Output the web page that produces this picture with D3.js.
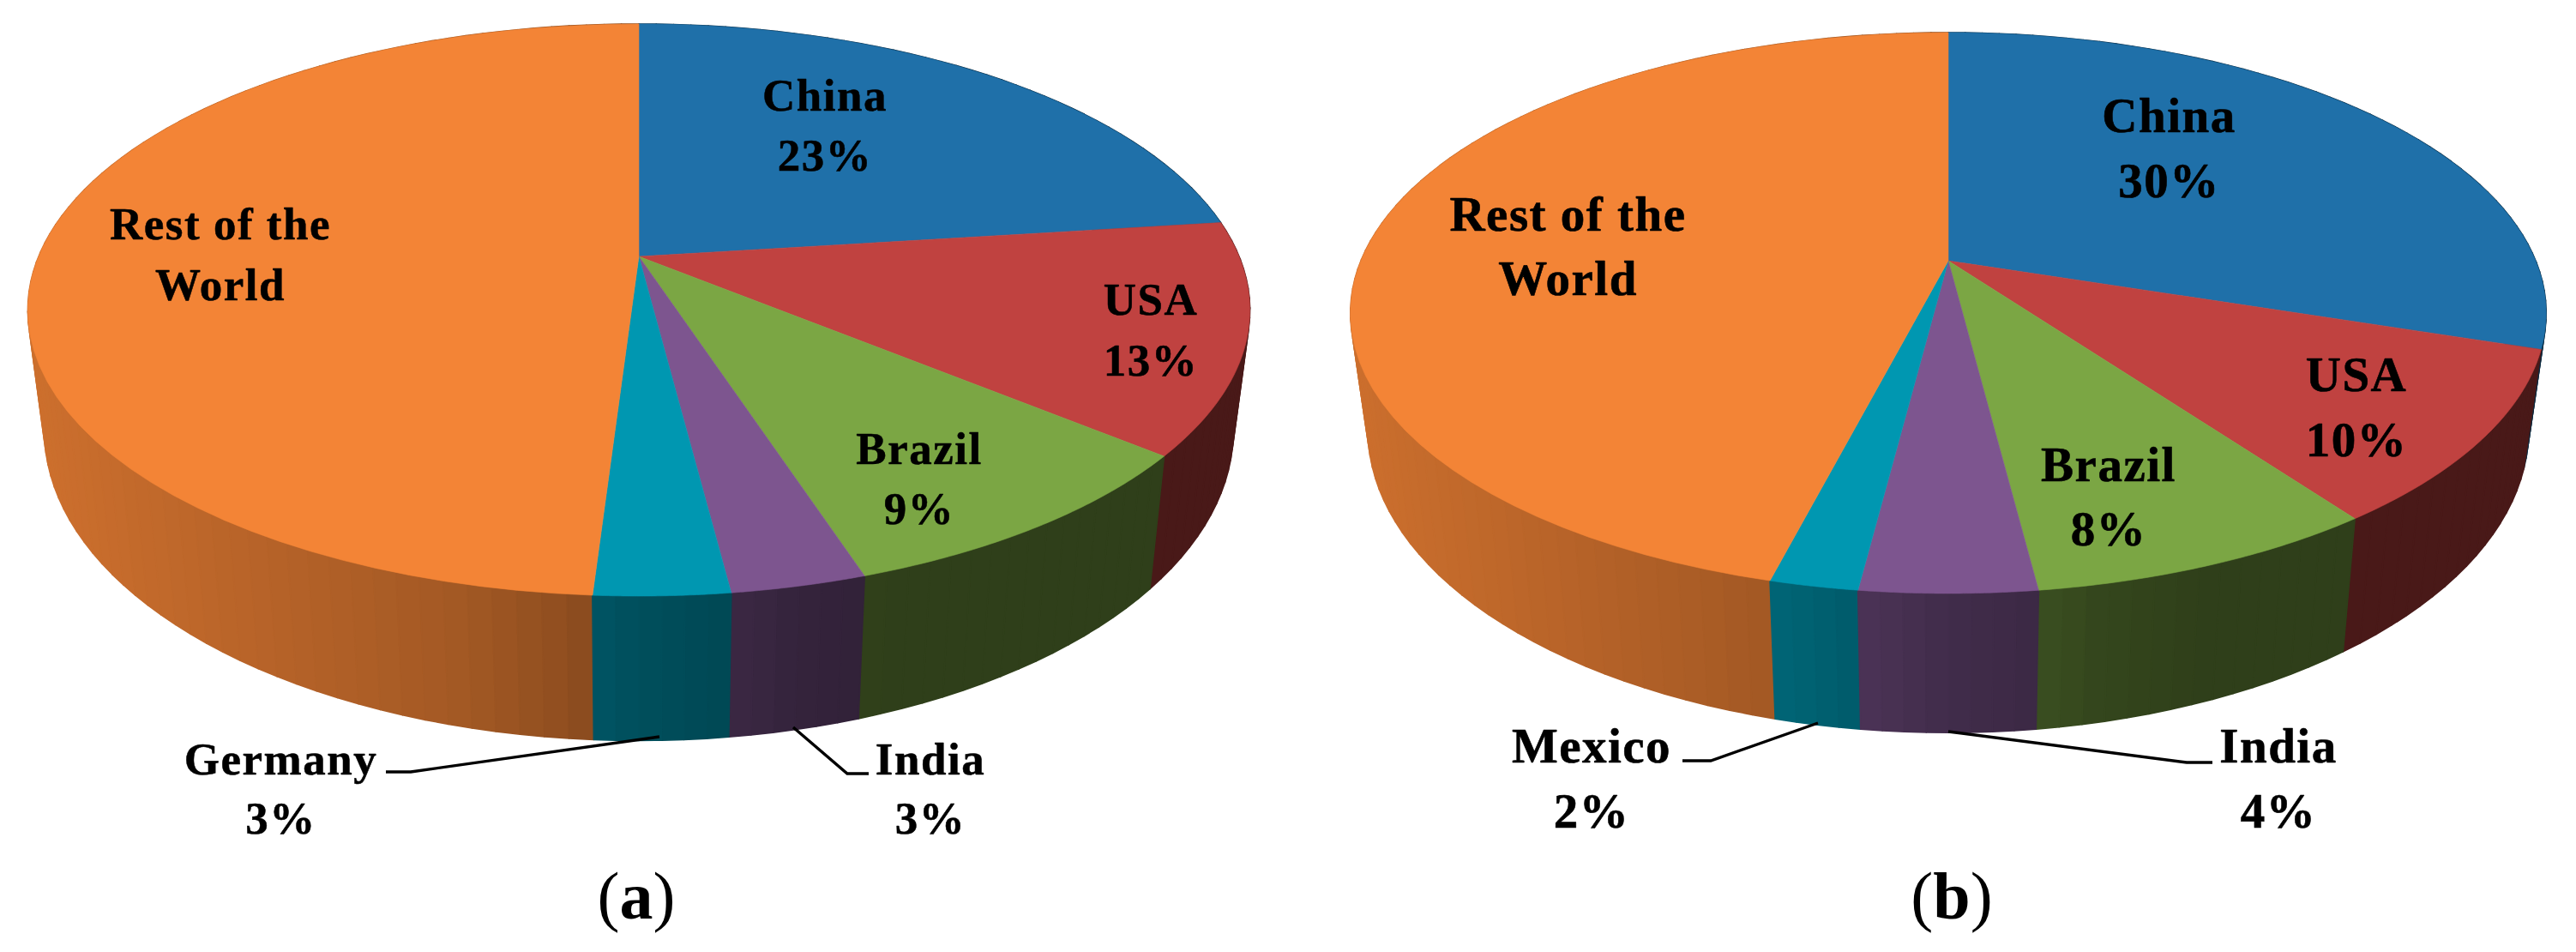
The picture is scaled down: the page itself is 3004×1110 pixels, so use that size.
<!DOCTYPE html>
<html><head><meta charset="utf-8">
<script src="https://cdnjs.cloudflare.com/ajax/libs/d3/7.8.5/d3.min.js"></script>
<style>html,body{margin:0;padding:0;background:#fff}svg{display:block}
text{font-family:"Liberation Serif",serif;fill:#000;text-anchor:middle}
.lbl{font-weight:700;stroke:#000;paint-order:stroke;stroke-linejoin:round;letter-spacing:1.5px}</style>
</head><body><svg id="c" width="3004" height="1110"></svg>
<script>
// ---- data ----
const categoriesA = ["China","USA","Brazil","India","Germany","Rest of the World"];
const valuesA     = [23,13,9,3,3,49];
const categoriesB = ["China","USA","Brazil","India","Mexico","Rest of the World"];
const valuesB     = [30,10,8,4,2,46];
const sliceColors = {China:"#1f70a9",USA:"#c04240",Brazil:"#7ba644",India:"#7d558f",Germany:"#0097b1",Mexico:"#0097b1","Rest of the World":"#f38436"};
const captionA = "a", captionB = "b";

// ---- layout ----
const layoutA = {
  cx:745, apexY:299, p:0.1874, B:700, A:321.8, B2:681, A2:349, Y2:434, fs:53, sw:0.5,
  labels:{China:[962,[["China",129],["23%",199]]],USA:[1342,[["USA",367],["13%",438]]],Brazil:[1072,[["Brazil",541],["9%",611]]],
    India:[1085,[["India",903],["3%",972]]],Germany:[327.5,[["Germany",903],["3%",972]]],"Rest of the World":[257,[["Rest of the",279],["World",350]]]},
  leaders:[[[769,859],[479,900],[450,900]],[[925,848],[988,902],[1013,902]]],
  capX:742
};
const layoutB = {
  cx:2272, apexY:304, p:0.1865, B:685, A:315.6, B2:665, A2:341, Y2:435, fs:57, sw:0.6,
  labels:{China:[2529.5,[["China",154],["30%",230]]],USA:[2748,[["USA",456],["10%",532]]],Brazil:[2459,[["Brazil",561],["8%",636]]],
    India:[2657,[["India",889],["4%",965]]],Mexico:[1856,[["Mexico",889],["2%",965]]],"Rest of the World":[1828.5,[["Rest of the",269],["World",344]]]},
  leaders:[[[2120,843],[1995,887],[1962,887]],[[2272,853],[2550,889],[2580,889]]],
  capX:2276
};
const shade = d3.scaleLinear().domain([-700,-207,-100,0,100,180,300,700]).range([.84,.67,.6,.52,.48,.42,.38,.38]).clamp(true);
const wallStep = Math.PI/90;

const svg = d3.select("#c");
const lineGen = d3.line();

function drawPie(cats, vals, L, caption){
  const g = svg.append("g");
  const slices = d3.pie().sort(null).value(d=>d.v).startAngle(0).endAngle(2*Math.PI)(cats.map((c,i)=>({c,v:vals[i]})));
  const top = a=>{const u=Math.sin(a),v=-Math.cos(a),w=1-L.p*v;return [L.cx+L.B*u/w, L.apexY+L.A*v/w];};
  const bot = a=>{const u=Math.sin(a),v=-Math.cos(a),w=1-L.p*v;return [L.cx+L.B2*u/w, L.Y2+L.A2*v/w];};
  const arc = (a0,a1)=>d3.range(0,61).map(i=>top(a0+(a1-a0)*i/60));

  // side wall: one thin facet per step, painted from the back to the front
  const facets = slices.flatMap(s=>{
    const n=Math.max(1,Math.ceil((s.endAngle-s.startAngle)/wallStep));
    return d3.range(n).map(i=>{
      const d=(s.endAngle-s.startAngle)/n, a0=s.startAngle+i*d, a1=a0+d, mid=(a0+a1)/2;
      const base=d3.rgb(sliceColors[s.data.c]), f=shade(top(mid)[0]-L.cx);
      return {pts:[top(a0),top(a1),bot(a1),bot(a0)], mid, col:d3.rgb(base.r*f,base.g*f,base.b*f).formatHex()};
    });
  }).sort((x,y)=>Math.abs(y.mid-Math.PI)-Math.abs(x.mid-Math.PI));
  g.selectAll("path.wall").data(facets).join("path").attr("class","wall")
    .attr("d",d=>lineGen(d.pts)+"Z").attr("fill",d=>d.col).attr("stroke",d=>d.col).attr("stroke-width",1.6).attr("stroke-linejoin","round");

  // top surface
  slices.forEach(s=>{
    const pts=[[L.cx,L.apexY]].concat(arc(s.startAngle,s.endAngle));
    g.append("path").attr("d",lineGen(pts)+"Z").attr("fill",sliceColors[s.data.c]).attr("stroke",sliceColors[s.data.c]).attr("stroke-width",.6);
  });
  // leaders
  L.leaders.forEach(p=>g.append("path").attr("d",lineGen(p)).attr("fill","none").attr("stroke","#000").attr("stroke-width",3.4));
  // labels
  cats.forEach(c=>{
    const [x,lines]=L.labels[c];
    lines.forEach(([t,y])=>g.append("text").attr("class","lbl").attr("x",x).attr("y",y).attr("font-size",L.fs).attr("stroke-width",L.sw).text(t));
  });
  // caption
  const t=g.append("text").attr("x",L.capX).attr("y",1071).attr("font-size",78);
  t.append("tspan").text("(");
  t.append("tspan").attr("font-weight",700).text(caption);
  t.append("tspan").text(")");
}
drawPie(categoriesA,valuesA,layoutA,captionA);
drawPie(categoriesB,valuesB,layoutB,captionB);
</script></body></html>
